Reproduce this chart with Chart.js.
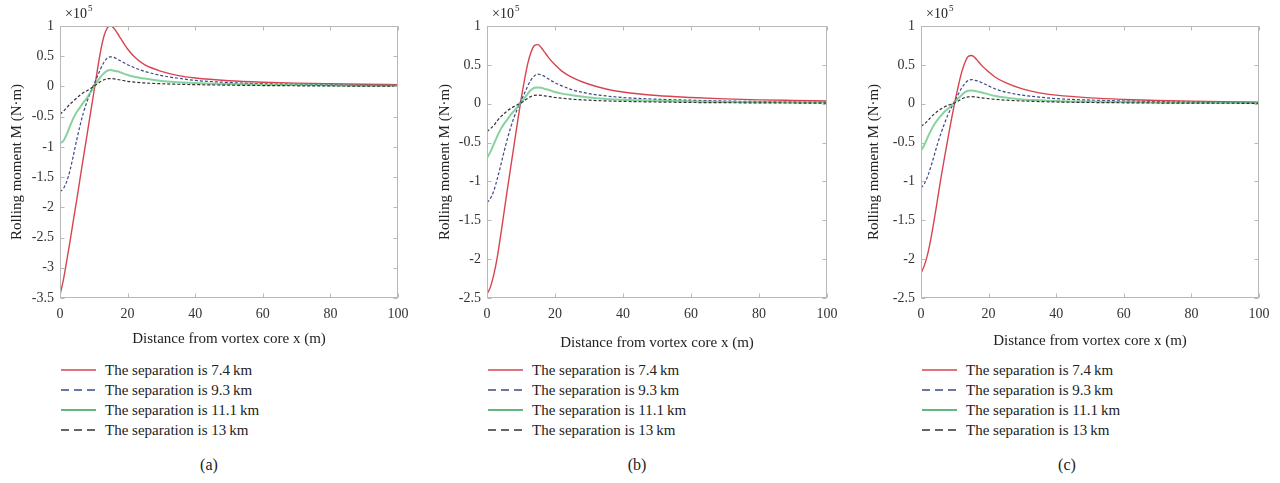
<!DOCTYPE html>
<html>
<head>
<meta charset="utf-8">
<script src="https://cdn.jsdelivr.net/npm/chart.js@4.4.1/dist/chart.umd.min.js"></script>
<style>
  html, body { margin: 0; padding: 0; background: #fff; }
  body { width: 1280px; height: 483px; position: relative; overflow: hidden; font-family: "Liberation Serif", "DejaVu Serif", serif; color: #222; }
  .panel { position: absolute; top: 0; }
  .panel canvas { position: absolute; left: 0; top: 0; }
  .legend { position: absolute; font-size: 15px; line-height: 20px; }
  .legend .row { display: flex; align-items: center; height: 20px; white-space: nowrap; }
  .legend svg { margin-right: 9px; }
  .caption { position: absolute; top: 456px; font-size: 16px; width: 40px; text-align: center; }
</style>
</head>
<body>

<script>
// distance from vortex core (m)
const xDist = [0, 1, 2, 3, 4, 5, 6, 7, 8, 9, 10, 11, 12, 13, 14, 15, 16, 17, 18, 20, 22, 25, 30, 35, 40, 50, 60, 70, 80, 90, 100];
const xTicks = [0, 20, 40, 60, 80, 100];
const yTicksA = [1, 0.5, 0, -0.5, -1, -1.5, -2, -2.5, -3, -3.5];
const yTicksBC = [1, 0.5, 0, -0.5, -1, -1.5, -2, -2.5];

const sepLabels = ['The separation is 7.4\u2009km', 'The separation is 9.3\u2009km', 'The separation is 11.1\u2009km', 'The separation is 13\u2009km'];
const captions = ['(a)', '(b)', '(c)'];

// rolling moment, x10^5 N·m
const m74A  = [-3.45, -3.2, -2.88, -2.55, -2.2, -1.86, -1.5, -1.15, -0.8, -0.45, -0.1, 0.25, 0.58, 0.83, 0.97, 1.0, 0.96, 0.88, 0.79, 0.62, 0.49, 0.36, 0.25, 0.18, 0.14, 0.095, 0.07, 0.055, 0.045, 0.037, 0.03];
const m93A  = [-1.74, -1.69, -1.57, -1.38, -1.13, -0.87, -0.63, -0.42, -0.25, -0.1, 0.03, 0.16, 0.29, 0.4, 0.47, 0.49, 0.48, 0.45, 0.42, 0.36, 0.31, 0.25, 0.18, 0.135, 0.1, 0.065, 0.045, 0.035, 0.027, 0.021, 0.017];
const m111A = [-0.94, -0.9, -0.79, -0.65, -0.52, -0.42, -0.34, -0.26, -0.19, -0.1, -0.01, 0.08, 0.16, 0.22, 0.26, 0.27, 0.26, 0.25, 0.23, 0.19, 0.16, 0.13, 0.09, 0.07, 0.055, 0.04, 0.03, 0.022, 0.017, 0.013, 0.01];
const m13A  = [-0.46, -0.41, -0.35, -0.29, -0.24, -0.19, -0.14, -0.1, -0.07, -0.035, 0.0, 0.04, 0.08, 0.11, 0.13, 0.13, 0.125, 0.115, 0.105, 0.085, 0.072, 0.058, 0.045, 0.036, 0.03, 0.021, 0.015, 0.011, 0.008, 0.006, 0.005];

const m74B  = [-2.45, -2.36, -2.2, -1.98, -1.7, -1.4, -1.1, -0.81, -0.52, -0.23, 0.05, 0.3, 0.52, 0.67, 0.75, 0.76, 0.72, 0.66, 0.6, 0.5, 0.42, 0.34, 0.25, 0.19, 0.15, 0.105, 0.08, 0.062, 0.05, 0.042, 0.035];
const m93B  = [-1.27, -1.22, -1.12, -0.97, -0.8, -0.62, -0.45, -0.3, -0.17, -0.06, 0.04, 0.13, 0.23, 0.31, 0.36, 0.38, 0.37, 0.35, 0.32, 0.27, 0.23, 0.18, 0.13, 0.1, 0.08, 0.058, 0.045, 0.035, 0.028, 0.023, 0.02];
const m111B = [-0.7, -0.62, -0.52, -0.42, -0.33, -0.26, -0.2, -0.14, -0.09, -0.04, 0.01, 0.07, 0.13, 0.18, 0.205, 0.21, 0.205, 0.19, 0.18, 0.15, 0.13, 0.11, 0.08, 0.062, 0.05, 0.038, 0.03, 0.023, 0.019, 0.017, 0.015];
const m13B  = [-0.36, -0.32, -0.28, -0.22, -0.17, -0.13, -0.09, -0.06, -0.035, -0.012, 0.01, 0.04, 0.07, 0.095, 0.108, 0.11, 0.107, 0.1, 0.095, 0.08, 0.07, 0.058, 0.045, 0.036, 0.03, 0.022, 0.016, 0.013, 0.011, 0.009, 0.008];

const m74C  = [-2.18, -2.08, -1.93, -1.72, -1.47, -1.2, -0.93, -0.68, -0.44, -0.2, 0.02, 0.22, 0.4, 0.53, 0.61, 0.62, 0.59, 0.54, 0.49, 0.41, 0.34, 0.27, 0.19, 0.14, 0.11, 0.075, 0.055, 0.042, 0.033, 0.026, 0.02];
const m93C  = [-1.08, -1.03, -0.93, -0.8, -0.65, -0.5, -0.37, -0.25, -0.14, -0.05, 0.04, 0.12, 0.2, 0.26, 0.3, 0.31, 0.3, 0.29, 0.27, 0.23, 0.19, 0.15, 0.11, 0.085, 0.065, 0.047, 0.035, 0.027, 0.021, 0.016, 0.013];
const m111C = [-0.6, -0.53, -0.43, -0.34, -0.26, -0.2, -0.15, -0.1, -0.065, -0.02, 0.02, 0.07, 0.11, 0.15, 0.168, 0.17, 0.165, 0.155, 0.145, 0.12, 0.1, 0.08, 0.055, 0.045, 0.035, 0.027, 0.021, 0.017, 0.014, 0.012, 0.01];
const m13C  = [-0.29, -0.26, -0.22, -0.17, -0.13, -0.095, -0.065, -0.04, -0.02, -0.005, 0.01, 0.035, 0.06, 0.08, 0.088, 0.09, 0.088, 0.082, 0.075, 0.065, 0.056, 0.046, 0.035, 0.028, 0.022, 0.016, 0.012, 0.009, 0.007, 0.006, 0.005];

// line styles per separation
const lineColors  = ['#d6454f', '#3c4886', 'rgba(95,195,125,0.75)', '#333333'];
const legendColors = ['#d6454f', '#3c4886', '#2e9e58', '#333333'];
const lineDash = [[], [3, 2], [], [3, 2]];
const lineWidths = [1.4, 1.2, 2, 1.2];

const FONT = '"Liberation Serif", "DejaVu Serif", serif';

// panel placement (layout only)
const panels = [
  { series: [m74A, m93A, m111A, m13A], yTicks: yTicksA, left: 0,   width: 425, axisW: 60, padR: 27, xTitlePad: 2, caption: 209 },
  { series: [m74B, m93B, m111B, m13B], yTicks: yTicksBC, left: 428, width: 425, axisW: 59, padR: 26, xTitlePad: -2, caption: 637 },
  { series: [m74C, m93C, m111C, m13C], yTicks: yTicksBC, left: 857, width: 423, axisW: 64, padR: 21, xTitlePad: 0, caption: 1067 }
];

// MATLAB-like box with inward ticks and the x10^5 multiplier
const matlabBox = {
  id: 'matlabBox',
  afterDraw(chart) {
    const { ctx, chartArea: a, scales: { x, y } } = chart;
    ctx.save();
    ctx.strokeStyle = '#b8b8b8';
    ctx.lineWidth = 1;
    const L = Math.round(a.left) + 0.5, R = Math.round(a.right) - 0.5;
    const T = Math.round(a.top) + 0.5, B = Math.round(a.bottom) - 0.5;
    ctx.strokeRect(L, T, R - L, B - T);
    ctx.beginPath();
    x.ticks.forEach(t => {
      const px = Math.round(x.getPixelForValue(t.value)) + 0.5;
      ctx.moveTo(px, B); ctx.lineTo(px, B - 4);
      ctx.moveTo(px, T); ctx.lineTo(px, T + 4);
    });
    y.ticks.forEach(t => {
      const py = Math.round(y.getPixelForValue(t.value)) + 0.5;
      ctx.moveTo(L, py); ctx.lineTo(L + 4, py);
      ctx.moveTo(R, py); ctx.lineTo(R - 4, py);
    });
    ctx.stroke();
    ctx.fillStyle = '#222';
    ctx.font = '14px ' + FONT;
    ctx.textBaseline = 'alphabetic';
    ctx.fillText('\u00d710', a.left + 5, a.top - 8);
    const w = ctx.measureText('\u00d710').width;
    ctx.font = '9px ' + FONT;
    ctx.fillText('5', a.left + 5 + w + 1, a.top - 15);
    ctx.restore();
  }
};

panels.forEach((p, i) => {
  const div = document.createElement('div');
  div.className = 'panel';
  div.style.left = p.left + 'px';
  document.body.appendChild(div);

  const canvas = document.createElement('canvas');
  canvas.width = p.width;
  canvas.height = 350;
  canvas.style.width = p.width + 'px';
  canvas.style.height = '350px';
  div.appendChild(canvas);

  new Chart(canvas.getContext('2d'), {
    type: 'line',
    data: {
      datasets: p.series.map((s, k) => ({
        label: sepLabels[k],
        data: xDist.map((xv, j) => ({ x: xv, y: s[j] })),
        borderColor: lineColors[k],
        borderWidth: lineWidths[k],
        borderDash: lineDash[k],
        pointRadius: 0,
        fill: false,
        cubicInterpolationMode: 'monotone'
      })).reverse()
    },
    options: {
      responsive: false,
      animation: false,
      layout: { padding: { top: 26, right: p.padR, left: 0, bottom: 0 } },
      plugins: { legend: { display: false }, tooltip: { enabled: false } },
      scales: {
        x: {
          type: 'linear',
          min: 0,
          max: 100,
          afterBuildTicks: s => { s.ticks = xTicks.map(v => ({ value: v })); },
          afterFit: s => { s.height = 52; },
          grid: { display: false, drawTicks: false },
          border: { display: false },
          ticks: { padding: 8, color: '#333', font: { family: FONT, size: 14 } },
          title: { display: true, text: 'Distance from vortex core x (m)', color: '#222', font: { family: FONT, size: 15 }, padding: { top: 0, bottom: p.xTitlePad } }
        },
        y: {
          type: 'linear',
          min: Math.min(...p.yTicks),
          max: Math.max(...p.yTicks),
          afterBuildTicks: s => { s.ticks = p.yTicks.slice().reverse().map(v => ({ value: v })); },
          afterFit: s => { s.width = p.axisW; },
          grid: { display: false, drawTicks: false },
          border: { display: false },
          ticks: { padding: 6, color: '#333', font: { family: FONT, size: 14 }, callback: v => String(v) },
          title: { display: true, text: 'Rolling moment M (N\u00b7m)', color: '#222', font: { family: FONT, size: 15 }, padding: { top: 8, bottom: 0 } }
        }
      }
    },
    plugins: [matlabBox]
  });

  // legend
  const leg = document.createElement('div');
  leg.className = 'legend';
  leg.style.left = (p.left + p.axisW + 1) + 'px';
  leg.style.top = '360px';
  sepLabels.forEach((lab, k) => {
    const row = document.createElement('div');
    row.className = 'row';
    const dash = lineDash[k].length ? 'stroke-dasharray="8,5"' : '';
    row.innerHTML = '<svg width="35" height="10"><line x1="0" y1="5" x2="35" y2="5" stroke="' + legendColors[k] + '" stroke-width="1.3" ' + dash + '/></svg><span>' + lab + '</span>';
    leg.appendChild(row);
  });
  document.body.appendChild(leg);

  const cap = document.createElement('div');
  cap.className = 'caption';
  cap.style.left = (p.caption - 20) + 'px';
  cap.textContent = captions[i];
  document.body.appendChild(cap);
});
</script>
</body>
</html>
